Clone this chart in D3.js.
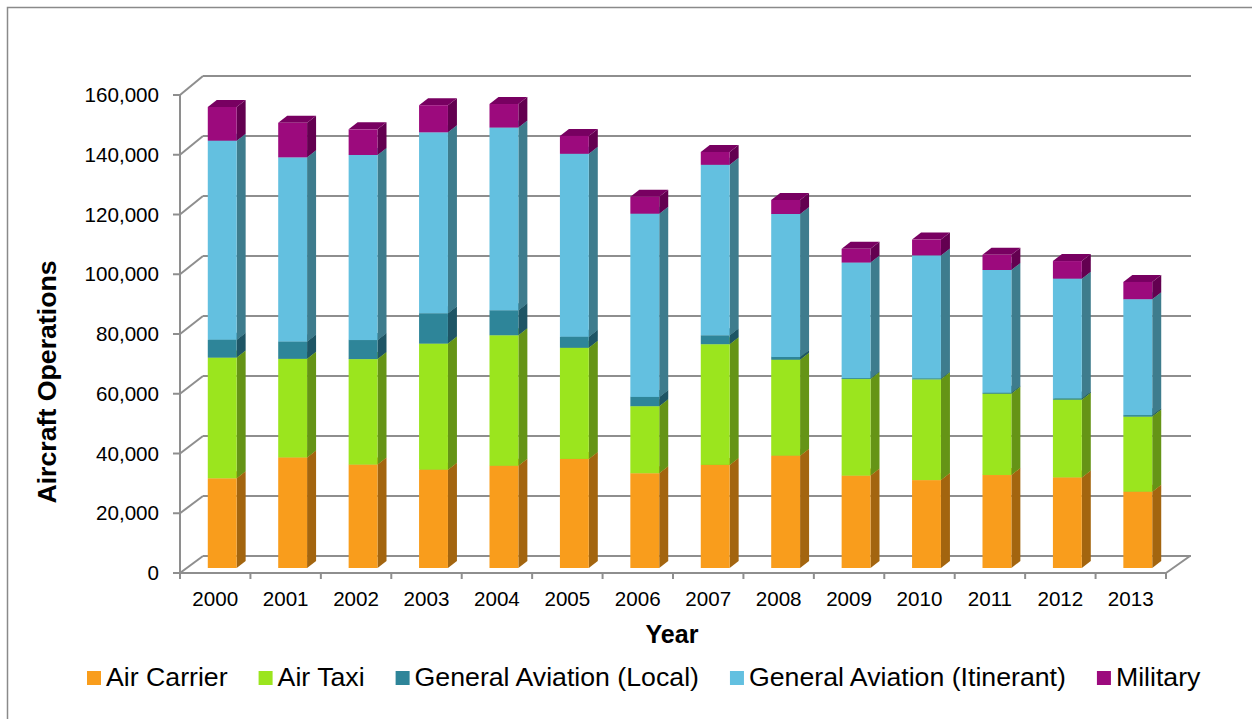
<!DOCTYPE html>
<html>
<head>
<meta charset="utf-8">
<script src="https://cdn.jsdelivr.net/npm/d3@7"></script>
<style>
  html, body { margin: 0; padding: 0; background: #fff; }
  svg { display: block; font-family: "Liberation Sans", Arial, sans-serif; }
</style>
</head>
<body>
<svg id="chart" width="1252" height="719"></svg>
<script>
// Annual aircraft operations by category
const years = ["2000", "2001", "2002", "2003", "2004", "2005", "2006",
               "2007", "2008", "2009", "2010", "2011", "2012", "2013"];
const airCarrier  = [30100, 37100, 34700, 33000, 34300, 36600, 31800, 34600, 37700, 31000, 29500, 31200, 30400, 25600];
const airTaxi     = [40500, 33100, 35400, 42300, 43800, 37300, 22500, 40500, 32200, 32400, 33800, 27300, 26100, 25200];
const gaLocal     = [6000, 5800, 6400, 10200, 8400, 3700, 3100, 3000, 900, 300, 300, 300, 400, 500];
const gaItinerant = [66800, 61800, 62100, 60700, 61300, 61400, 61500, 57200, 48000, 38800, 41300, 41200, 40200, 38900];
const military    = [11300, 11600, 8600, 9100, 7900, 6000, 5700, 4300, 4700, 4600, 5300, 5100, 5900, 5800];

const seriesNames = ["Air Carrier", "Air Taxi", "General Aviation (Local)",
                     "General Aviation (Itinerant)", "Military"];
const yTicks = [0, 20000, 40000, 60000, 80000, 100000, 120000, 140000, 160000];

// face colours: front, side, top
const palette = [
  { front: "#F99D1C", side: "#A3650F", top: "#C77F16" },
  { front: "#9BE51E", side: "#659416", top: "#7DB81A" },
  { front: "#2E8599", side: "#1E5565", top: "#266C7C" },
  { front: "#63C0E0", side: "#3E7C8D", top: "#4F9DB6" },
  { front: "#9C0A7D", side: "#630050", top: "#780061" }
];

const rows = years.map((y, i) => ({
  year: y,
  "Air Carrier": airCarrier[i],
  "Air Taxi": airTaxi[i],
  "General Aviation (Local)": gaLocal[i],
  "General Aviation (Itinerant)": gaItinerant[i],
  "Military": military[i]
}));
const stacked = d3.stack().keys(seriesNames)(rows);

const svg = d3.select("#chart");
const gridColor = "#8E8E8E";

// outer chart frame
svg.append("rect")
  .attr("x", 7.5).attr("y", 7.5).attr("width", 1400).attr("height", 900)
  .attr("fill", "none").attr("stroke", "#8A8A8A").attr("stroke-width", 1.5);

// 3D box: front plane and back wall
const depthX = 23;                 // horizontal shift from front to back wall
const x = d3.scaleBand().domain(years).range([180, 1166]);
const yFront = d3.scaleLinear().domain([0, 160000]).range([573, 95]);
const yBack  = d3.scaleLinear().domain([0, 160000]).range([556, 76]);
// plane in which the front faces of the columns sit
const barShift = 7;
const yBar = d3.scaleLinear().domain([0, 160000]).range([568, 91.2]);
const barW = x.bandwidth() * 0.41;
const sideDx = 9, sideDy = -7;

const grid = svg.append("g").attr("stroke", gridColor).attr("stroke-width", 2).attr("fill", "none");
// back-wall gridlines
grid.selectAll("line.back").data(yTicks).join("line")
  .attr("class", "back")
  .attr("x1", 180 + depthX).attr("x2", 1166 + depthX + 2)
  .attr("y1", d => yBack(d)).attr("y2", d => yBack(d));
// side-wall gridlines
grid.selectAll("line.side").data(yTicks).join("line")
  .attr("class", "side")
  .attr("x1", 180).attr("y1", d => yFront(d))
  .attr("x2", 180 + depthX).attr("y2", d => yBack(d));
// value axis with tick marks
grid.append("line").attr("x1", 180).attr("x2", 180)
  .attr("y1", yFront(160000)).attr("y2", yFront(0));
grid.selectAll("line.tick").data(yTicks).join("line")
  .attr("class", "tick")
  .attr("x1", 173).attr("x2", 180)
  .attr("y1", d => yFront(d)).attr("y2", d => yFront(d));
// floor edges
grid.append("line").attr("x1", 180).attr("x2", 1166).attr("y1", yFront(0)).attr("y2", yFront(0));
grid.append("line").attr("x1", 1166).attr("y1", yFront(0)).attr("x2", 1166 + depthX + 1).attr("y2", yBack(0));
// category tick marks
const boundaries = years.map(y => x(y)).concat([x.range()[1]]);
grid.selectAll("line.ctick").data(boundaries).join("line")
  .attr("class", "ctick")
  .attr("x1", d => d).attr("x2", d => d)
  .attr("y1", yFront(0)).attr("y2", yFront(0) + 6);

// value labels
svg.append("g").selectAll("text").data(yTicks).join("text")
  .attr("x", 159).attr("y", d => yFront(d)).attr("dy", "0.35em")
  .attr("text-anchor", "end").attr("font-size", 20.6).attr("fill", "#000")
  .text(d3.format(","));

// year labels
svg.append("g").selectAll("text").data(years).join("text")
  .attr("x", d => x(d) + x.bandwidth() / 2).attr("y", 606)
  .attr("text-anchor", "middle").attr("font-size", 20.6).attr("fill", "#000")
  .text(d => d);

// stacked 3D columns
const bars = svg.append("g");
years.forEach((yr, i) => {
  const x1 = x(yr) + x.bandwidth() / 2 + barShift - barW / 2;
  const x2 = x1 + barW;
  stacked.forEach((layer, s) => {
    const [v0, v1] = layer[i];
    if (v1 <= v0) return;
    const yb = yBar(v0), yt = yBar(v1);
    const c = palette[s];
    const g = bars.append("g");
    // side face
    g.append("path")
      .attr("d", `M${x2},${yb}L${x2},${yt}L${x2 + sideDx},${yt + sideDy}L${x2 + sideDx},${yb + sideDy}Z`)
      .attr("fill", c.side);
    // top face
    g.append("path")
      .attr("d", `M${x1},${yt}L${x2},${yt}L${x2 + sideDx},${yt + sideDy}L${x1 + sideDx},${yt + sideDy}Z`)
      .attr("fill", c.top);
    // front face
    g.append("rect")
      .attr("x", x1).attr("y", yt).attr("width", barW).attr("height", Math.max(0.8, yb - yt))
      .attr("fill", c.front);
  });
});

// axis titles
svg.append("text")
  .attr("x", 672).attr("y", 643).attr("text-anchor", "middle")
  .attr("font-size", 25).attr("font-weight", "bold").attr("fill", "#000")
  .text("Year");
svg.append("text")
  .attr("transform", "translate(56,382) rotate(-90)")
  .attr("text-anchor", "middle")
  .attr("font-size", 26.7).attr("font-weight", "bold").attr("fill", "#000")
  .text("Aircraft Operations");

// legend
const legend = svg.append("g");
let lx = 87;
seriesNames.forEach((name, s) => {
  legend.append("rect")
    .attr("x", lx).attr("y", 671).attr("width", 14).attr("height", 14)
    .attr("fill", palette[s].front);
  const t = legend.append("text")
    .attr("x", lx + 19).attr("y", 686)
    .attr("font-size", 26.7).attr("fill", "#000")
    .text(name);
  lx += 19 + t.node().getComputedTextLength() + 31;
});
</script>
</body>
</html>
